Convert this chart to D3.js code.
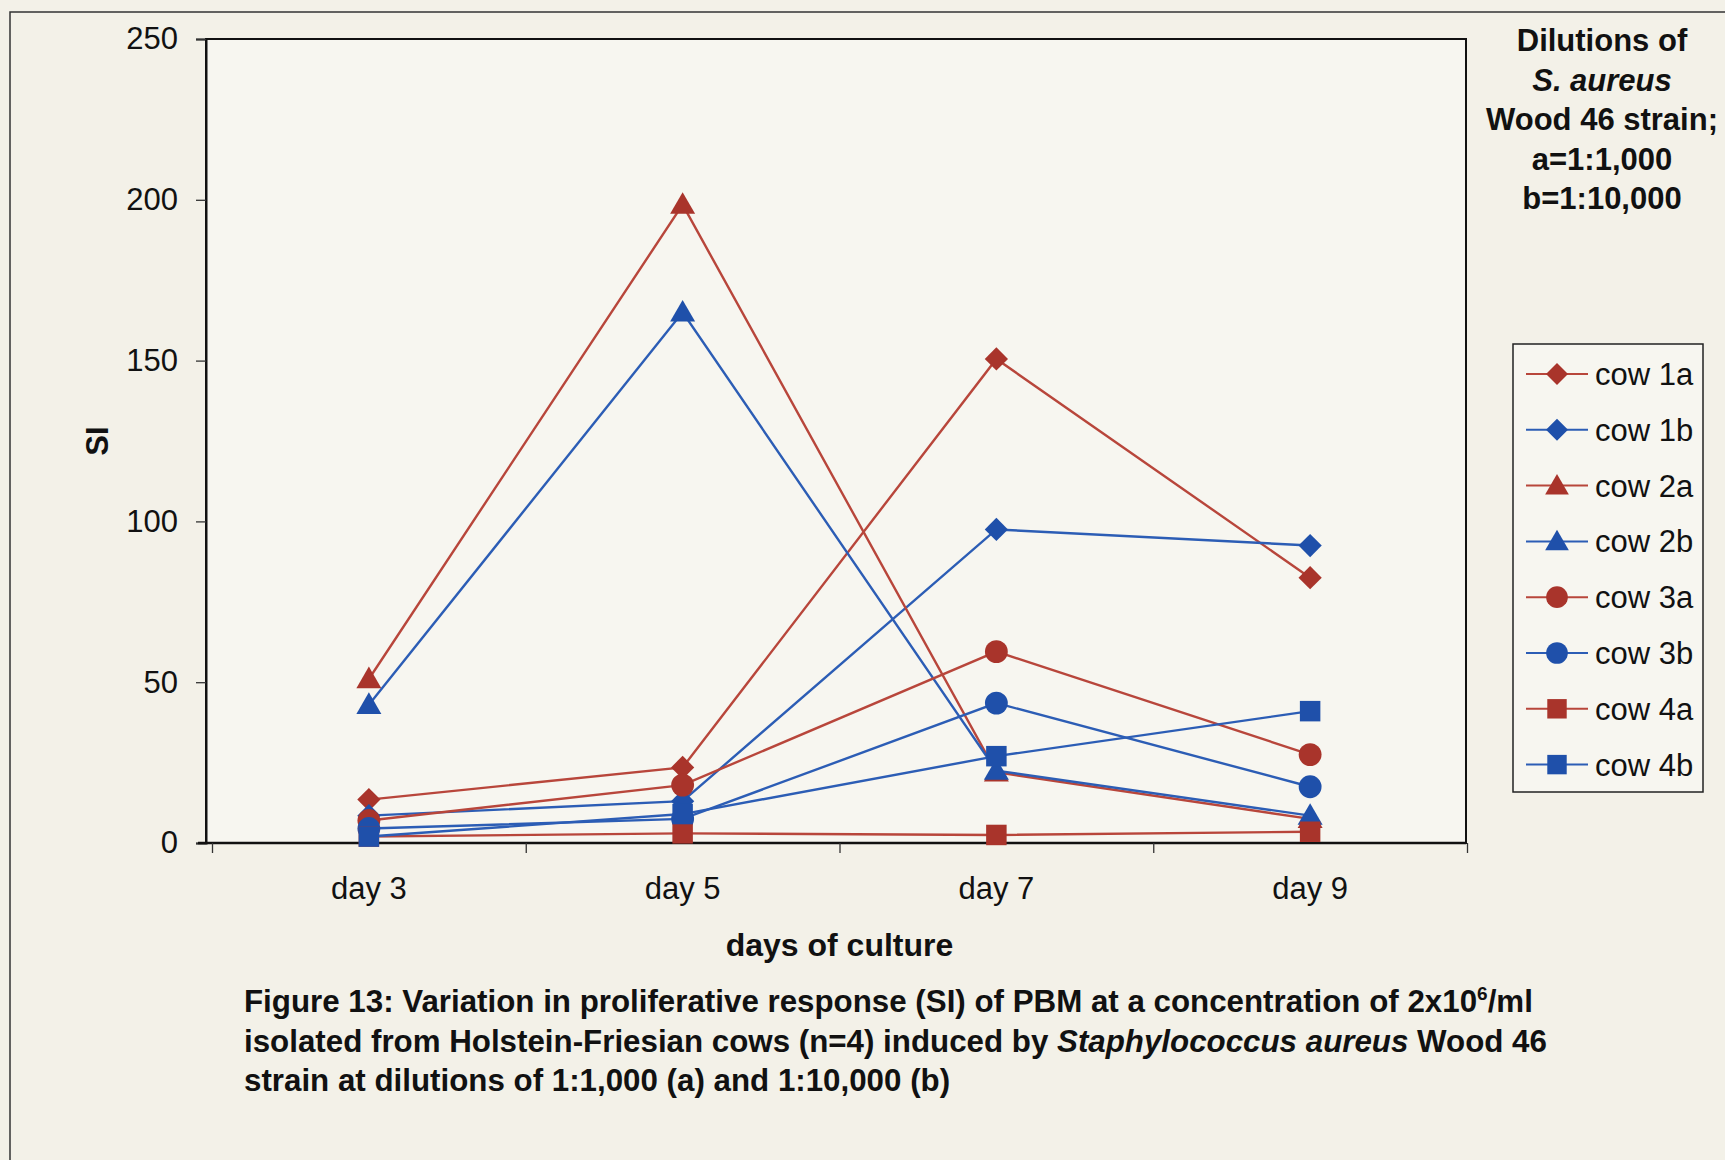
<!DOCTYPE html>
<html><head><meta charset="utf-8">
<script src="https://cdn.jsdelivr.net/npm/d3@7"></script>
<style>
html,body{margin:0;padding:0;background:#F3F1E8;}
svg{display:block;font-family:"Liberation Sans",Arial,sans-serif;}
</style></head>
<body>
<svg id="c" width="1725" height="1160"></svg>
<script>
// ---- data ----
const categories = ["day 3", "day 5", "day 7", "day 9"];
const seriesNames = ["cow 1a", "cow 1b", "cow 2a", "cow 2b", "cow 3a", "cow 3b", "cow 4a", "cow 4b"];
const cow1a = [13.5, 23.5, 150.5, 82.5];
const cow1b = [8.5, 13, 97.5, 92.5];
const cow2a = [51, 198.5, 22, 7.5];
const cow2b = [43, 165, 22.5, 8.5];
const cow3a = [7, 18, 59.5, 27.5];
const cow3b = [4.5, 7.5, 43.5, 17.5];
const cow4a = [2, 3, 2.5, 3.5];
const cow4b = [2, 9, 27, 41];
const yTicks = [0, 50, 100, 150, 200, 250];
const seriesValues = [cow1a, cow1b, cow2a, cow2b, cow3a, cow3b, cow4a, cow4b];
const seriesShapes = ["diamond", "diamond", "triangle", "triangle", "circle", "circle", "square", "square"];
const seriesColors = ["red", "blue", "red", "blue", "red", "blue", "red", "blue"];

const noteLines = ["Dilutions of", "S. aureus", "Wood 46 strain;", "a=1:1,000", "b=1:10,000"];

// ---- styling ----
const RED = "#A9342B", BLUE = "#1F50AA";
const lineRed = "#B8463B", lineBlue = "#2C5DB5";
const col = c => c === "red" ? RED : BLUE;
const lcol = c => c === "red" ? lineRed : lineBlue;
const FS = 31;

const svg = d3.select("#c");
const L = 206, R = 1466, T = 39, B = 843;
const XL = 212, XR = 1467;

// outer frame
svg.append("rect").attr("x", 0).attr("y", 0).attr("width", 1725).attr("height", 1160).attr("fill", "#F3F1E8");
svg.append("rect").attr("x", 10).attr("y", 12).attr("width", 1760).attr("height", 1200)
  .attr("fill", "none").attr("stroke", "#333").attr("stroke-width", 1.5);

// plot area
svg.append("rect").attr("x", L).attr("y", T).attr("width", R - L).attr("height", B - T)
  .attr("fill", "#F7F6F0").attr("stroke", "#111").attr("stroke-width", 2);

const x = d3.scaleBand().domain(categories).range([XL, XR]).padding(0);
const xc = d => x(d) + x.bandwidth() / 2;
const y = d3.scaleLinear().domain([0, 250]).range([B, T]);
const xEdge = d3.scaleLinear().domain([0, categories.length]).range([XL, XR]);

// y axis
const ya = svg.append("g").attr("transform", `translate(${L},0)`)
  .call(d3.axisLeft(y).tickValues(yTicks).tickSize(10).tickPadding(18));
ya.select(".domain").attr("stroke", "#111").attr("stroke-width", 2);
ya.selectAll(".tick line").attr("stroke", "#333").attr("stroke-width", 1.3);
ya.selectAll(".tick text").attr("font-size", FS).attr("fill", "#111")
  .attr("font-family", "'Liberation Sans',Arial,sans-serif");

// x axis (ticks at category boundaries)
svg.append("line").attr("x1", L - 8).attr("x2", R).attr("y1", B).attr("y2", B)
  .attr("stroke", "#111").attr("stroke-width", 2.5);
const xa = svg.append("g").attr("transform", `translate(0,${B})`)
  .call(d3.axisBottom(xEdge).tickValues(d3.range(categories.length + 1)).tickSize(10).tickFormat(""));
xa.select(".domain").attr("stroke", "none");
xa.selectAll(".tick line").attr("stroke", "#333").attr("stroke-width", 1.3);

svg.append("g").selectAll("text").data(categories).join("text")
  .attr("x", d => xc(d)).attr("y", 899).attr("text-anchor", "middle")
  .attr("font-size", FS).attr("fill", "#111").text(d => d);

// axis titles
svg.append("text").attr("x", (XL + XR) / 2).attr("y", 956).attr("text-anchor", "middle")
  .attr("font-size", 32).attr("font-weight", "bold").attr("fill", "#111").text("days of culture");
svg.append("text").attr("transform", `translate(108,${(T + B) / 2}) rotate(-90)`).attr("text-anchor", "middle")
  .attr("font-size", FS).attr("font-weight", "bold").attr("fill", "#111").text("SI");

// symbols
const diamondSym = { draw(ctx, size) { const r = Math.sqrt(size / 2); ctx.moveTo(0, -r); ctx.lineTo(r, 0); ctx.lineTo(0, r); ctx.lineTo(-r, 0); ctx.closePath(); } };
const symType = { diamond: diamondSym, triangle: d3.symbolTriangle, circle: d3.symbolCircle, square: d3.symbolSquare };
const symSize = { diamond: 270, triangle: 270, circle: 410, square: 420 };
const sym = (s, f = 1) => d3.symbol().type(symType[s]).size(symSize[s] * f)();

// lines + markers
const line = d3.line().x((d, i) => xc(categories[i])).y(d => y(d));
const gS = svg.append("g");
seriesValues.forEach((vals, k) => {
  const g = gS.append("g");
  g.append("path").attr("d", line(vals)).attr("fill", "none")
    .attr("stroke", lcol(seriesColors[k])).attr("stroke-width", 2.4);
  g.selectAll("path.m").data(vals).join("path").attr("class", "m")
    .attr("transform", (d, i) => `translate(${xc(categories[i])},${y(d) + (seriesShapes[k] === "triangle" ? 2 : 0)})`)
    .attr("d", sym(seriesShapes[k])).attr("fill", col(seriesColors[k]));
});

// legend
const lg = svg.append("g");
lg.append("rect").attr("x", 1513).attr("y", 344).attr("width", 190).attr("height", 448)
  .attr("fill", "#F7F6F0").attr("stroke", "#222").attr("stroke-width", 1.5);
seriesNames.forEach((n, k) => {
  const yy = 374 + k * 55.8;
  lg.append("line").attr("x1", 1526).attr("x2", 1588).attr("y1", yy).attr("y2", yy)
    .attr("stroke", lcol(seriesColors[k])).attr("stroke-width", 2);
  lg.append("path").attr("transform", `translate(1557,${yy + (seriesShapes[k] === "triangle" ? 2 : 0)})`)
    .attr("d", sym(seriesShapes[k], 0.9)).attr("fill", col(seriesColors[k]));
  lg.append("text").attr("x", 1595).attr("y", yy + 11).attr("font-size", FS).attr("fill", "#111").text(n);
});

// note at top right
svg.append("g").selectAll("text").data(noteLines).join("text")
  .attr("x", 1602).attr("y", (d, i) => 51 + i * 39.5).attr("text-anchor", "middle")
  .attr("font-size", FS).attr("font-weight", "bold").attr("fill", "#111")
  .attr("font-style", (d, i) => i === 1 ? "italic" : "normal").text(d => d);

// caption
const cap = svg.append("g").attr("font-size", 31.3).attr("font-weight", "bold").attr("fill", "#111");
const t1 = cap.append("text").attr("x", 244).attr("y", 1012);
t1.append("tspan").text("Figure 13: Variation in proliferative response (SI) of PBM at a concentration of 2x10");
t1.append("tspan").attr("dy", -12).attr("font-size", 19).text("6");
t1.append("tspan").attr("dy", 12).text("/ml");
const t2 = cap.append("text").attr("x", 244).attr("y", 1052);
t2.append("tspan").text("isolated from Holstein-Friesian cows (n=4) induced by ");
t2.append("tspan").attr("font-style", "italic").text("Staphylococcus aureus");
t2.append("tspan").text(" Wood 46");
cap.append("text").attr("x", 244).attr("y", 1091).text("strain at dilutions of 1:1,000 (a) and 1:10,000 (b)");
</script>
</body></html>
